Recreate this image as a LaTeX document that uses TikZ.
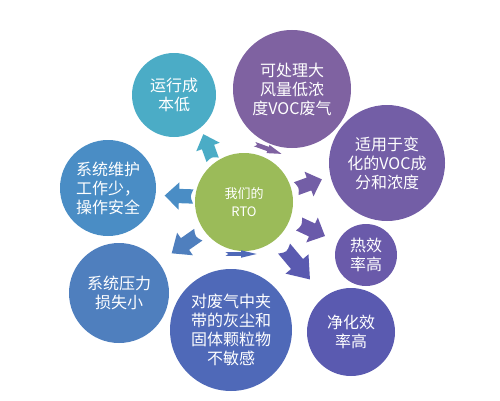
\documentclass[tikz,border=0pt]{standalone}
\usepackage{fontspec}
\newfontfamily\cjk{Noto Sans CJK SC}
\definecolor{cteal}{HTML}{4BACC6}
\definecolor{cpurA}{HTML}{7F62A1}
\definecolor{cpurB}{HTML}{735EA6}
\definecolor{cpurC}{HTML}{6A5AAA}
\definecolor{cpurD}{HTML}{5A5AB0}
\definecolor{cblueA}{HTML}{4F69B8}
\definecolor{cblueB}{HTML}{4F7FBE}
\definecolor{cblueC}{HTML}{4A8DC5}
\definecolor{cgreen}{HTML}{9BBB59}
\newcommand\rtoarr[5]{%
  \fill[#5, shift={(#1)}, rotate=#2, xscale=#3, yscale=#4]
    (-13,-6.5) -- (0,-6.5) -- (0,-12.5) -- (13,0) -- (0,12.5) -- (0,6.5) -- (-13,6.5)
    .. controls (-10,0) .. (-13,-6.5) -- cycle;}
\begin{document}
\begin{tikzpicture}[x=1pt,y=1pt,
  bub/.style={circle, fill=#1, text=white, align=center, inner sep=0pt,
    font=\cjk\fontsize{16}{19}\selectfont}]
\useasboundingbox (0,0) rectangle (500,400);
\node[bub=cgreen, minimum size=98pt, font=\cjk\fontsize{13}{18}\selectfont] (c) at (244,198) {我们的\\RTO};
\node[bub=cteal, minimum size=84pt] (n1) at (174,305) {运行成\\本低};
\node[bub=cpurA, minimum size=118pt] (n2) at (292,311) {可处理大\\风量低浓\\度VOC废气};
\node[bub=cpurB, minimum size=116pt] (n3) at (387,237) {适用于变\\化的VOC成\\分和浓度};
\node[bub=cpurC, minimum size=62pt] (n4) at (366,145) {热效\\率高};
\node[bub=cpurD, minimum size=88pt] (n5) at (351,68) {净化效\\率高};
\node[bub=cblueA, minimum size=122pt] (n6) at (231,70) {对废气中夹\\带的灰尘和\\固体颗粒物\\不敏感};
\node[bub=cblueB, minimum size=100pt] (n7) at (119,107) {系统压力\\损失小};
\node[bub=cblueC, minimum size=96pt, align=left] (n8) at (108,212) {系统维护\\工作少，\\操作安全};
\rtoarr{208,253}{110}{1.05}{1.0}{cteal}
\rtoarr{268,251}{-20}{1.1}{0.35}{cpurA}
\rtoarr{309,216}{20}{1.05}{1.05}{cpurB}
\rtoarr{312,170}{-25}{1.1}{1.1}{cpurC}
\rtoarr{297,136}{-50}{1.55}{1.2}{cpurD}
\rtoarr{241,146}{0}{1.2}{0.3}{cblueA}
\rtoarr{185,156}{-145}{1.25}{1.1}{cblueB}
\rtoarr{179,204}{178}{1.1}{1.1}{cblueC}
\end{tikzpicture}
\end{document}
